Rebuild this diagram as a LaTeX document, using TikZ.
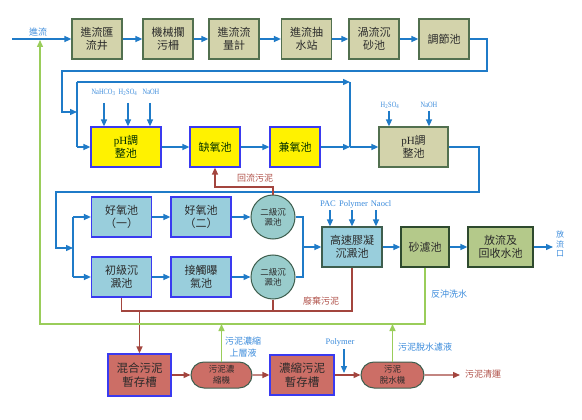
\documentclass[tikz,border=0pt]{standalone}
\usepackage{fontspec}
\setmainfont{Noto Sans CJK TC}
\newfontfamily\lat{Liberation Serif}
\newfontfamily\latn[FakeStretch=0.8]{Liberation Serif}
\usetikzlibrary{arrows.meta,shapes.misc}
\definecolor{khaki}{HTML}{D3D3AB}
\definecolor{dgreen}{HTML}{52704F}
\definecolor{bborder}{HTML}{3A3AF0}
\definecolor{lblue}{HTML}{99CEDC}
\definecolor{cfill}{HTML}{99CCCC}
\definecolor{cborder}{HTML}{3E5E4E}
\definecolor{gfill}{HTML}{B4C98A}
\definecolor{gborder}{HTML}{2E4A2E}
\definecolor{rfill}{HTML}{CC6E66}
\definecolor{blc}{HTML}{1F7BC8}
\definecolor{rlc}{HTML}{A3453E}
\definecolor{glc}{HTML}{9ACD5A}
\definecolor{blabel}{HTML}{3C8CDC}
\definecolor{rlabel}{HTML}{B05048}
\definecolor{btext}{HTML}{2A2A2A}
\tikzset{
  box/.style={draw, line width=1.2pt, inner sep=0pt, align=center, text=btext,
    font=\fontsize{11}{13}\selectfont, minimum width=50pt, minimum height=40pt},
  topb/.style={box, fill=khaki, draw=dgreen},
  ybox/.style={box, fill=yellow, draw=bborder, text=black!70!green!60!black},
  bbox/.style={box, fill=lblue, draw=bborder, minimum width=60pt},
  hbox/.style={box, fill=lblue, draw=cborder, minimum width=60pt},
  gbox/.style={box, fill=gfill, draw=gborder},
  rbox/.style={box, fill=rfill, draw=bborder, font=\fontsize{11.5}{14}\selectfont},
  circ/.style={circle, draw=cborder, fill=cfill, line width=1pt, minimum size=44pt,
    inner sep=0pt, align=center, text=btext, font=\fontsize{8.5}{10}\selectfont},
  stad/.style={rounded rectangle, draw=cborder, fill=rfill, line width=1pt,
    minimum width=61pt, minimum height=26pt, inner sep=0pt, align=center, text=btext,
    font=\fontsize{8.5}{11}\selectfont},
  arr/.style={-{Triangle[length=7pt,width=6pt]}},
  bline/.style={draw=blc, line width=1.4pt},
  rline/.style={draw=rlc, line width=1.4pt},
  gline/.style={draw=glc, line width=1.4pt},
  bll/.style={text=blabel, inner sep=0pt, font=\fontsize{9}{10}\selectfont, align=center},
  rll/.style={text=rlabel, inner sep=0pt, font=\fontsize{9}{10}\selectfont, align=center},
  chem/.style={text=blabel, inner sep=0pt, font=\latn\fontsize{8}{9}\selectfont},
  chemw/.style={text=blabel, inner sep=0pt, font=\lat\fontsize{8.5}{9}\selectfont},
}
\begin{document}
\begin{tikzpicture}[x=1pt,y=-1pt]
\useasboundingbox[fill=white] (0,0) rectangle (582,420);

% ---- top row
\node[topb] (t1) at (97,39) {進流匯\\流井};
\node[topb] (t2) at (168,39) {機械攔\\污柵};
\node[topb] (t3) at (234,39) {進流流\\量計};
\node[topb] (t4) at (306.5,39) {進流抽\\水站};
\node[topb] (t5) at (374,39) {渦流沉\\砂池};
\node[topb] (t6) at (444,39) {調節池};

% ---- second row
\node[ybox, minimum width=70pt] (p1) at (126,147) {{\lat pH}調\\整池};
\node[ybox] (a1) at (215,147) {缺氧池};
\node[ybox] (a2) at (295,147) {兼氧池};
\node[topb, minimum width=69pt] (p2) at (413.5,147) {{\lat pH}調\\整池};

% ---- third/fourth rows
\node[bbox] (o1) at (121.5,217) {好氧池\\（一）};
\node[bbox] (o2) at (201,217) {好氧池\\（二）};
\node[circ] (c1) at (273,217) {二級沉\\澱池};
\node[bbox] (i1) at (121.5,277) {初級沉\\澱池};
\node[bbox] (i2) at (201,277) {接觸曝\\氣池};
\node[circ] (c2) at (273,277) {二級沉\\澱池};
\node[hbox] (hs) at (352,247) {高速膠凝\\沉澱池};
\node[gbox, minimum width=48pt] (sf) at (425,247) {砂濾池};
\node[gbox, minimum width=65pt] (fr) at (500.5,247) {放流及\\回收水池};

% ---- sludge row
\node[rbox, minimum width=63pt, minimum height=42pt] (m1) at (139.5,375) {混合污泥\\暫存槽};
\node[stad] (s1) at (221.5,375) {污泥濃\\縮機};
\node[rbox, minimum width=64pt, minimum height=40pt] (m2) at (302,375) {濃縮污泥\\暫存槽};
\node[stad, minimum width=63pt] (s2) at (392.5,375) {污泥\\脫水機};

% ---- inflow
\coordinate (inflow) at (12,39);
\draw[bline,arr] (inflow) -- (t1.west);
\node[bll] (lin) at (38,32) {進流};
\draw[bline,arr] (t1) -- (t2);
\draw[bline,arr] (t2) -- (t3);
\draw[bline,arr] (t3) -- (t4);
\draw[bline,arr] (t4) -- (t5);
\draw[bline,arr] (t5) -- (t6);

% ---- loop to row 2
\coordinate (k1) at (487,71);
\coordinate (k2) at (62,112);
\coordinate (k3) at (77,112);
\draw[bline,arr] (t6.east) -| (k1) -| (k2) -- (k3);
\coordinate (v1) at (77,82);
\coordinate (v2) at (77,147);
\coordinate (b1) at (350,82);
\coordinate (b2) at (350,147);
\draw[bline] (v1) -- (v2);
\draw[bline,arr] (v2) -- (p1.west);
\draw[bline,arr] (v1) -- (b1);
\draw[bline] (b1) -- (b2);
\draw[bline,arr] (p1) -- (a1);
\draw[bline,arr] (a1) -- (a2);
\draw[bline,arr] (a2) -- (b2);
\draw[bline,arr] (b2) -- (p2);

% ---- chemicals row 2
\node[chem] (n1) at (103.5,92) {NaHCO\textsubscript{3}};
\node[chem] (n2) at (128,92) {H\textsubscript{2}SO\textsubscript{4}};
\node[chem] (n3) at (151,92) {NaOH};
\coordinate (n1a) at (104,103);
\coordinate (n2a) at (128,103);
\coordinate (n3a) at (150,103);
\draw[bline,arr] (n1a) -- (n1a |- p1.north);
\draw[bline,arr] (n2a) -- (n2a |- p1.north);
\draw[bline,arr] (n3a) -- (n3a |- p1.north);
\node[chem] (n4) at (390,105) {H\textsubscript{2}SO\textsubscript{4}};
\node[chem] (n5) at (429,105) {NaOH};
\coordinate (n4a) at (389,111);
\coordinate (n5a) at (429,111);
\draw[bline,arr] (n4a) -- (n4a |- p2.north);
\draw[bline,arr] (n5a) -- (n5a |- p2.north);

% ---- pH2 to rows 3/4
\coordinate (q1) at (479,192);
\coordinate (q2) at (56,248);
\coordinate (q3) at (73,248);
\draw[bline,arr] (p2.east) -| (q1) -| (q2) -- (q3);
\coordinate (u1) at (73,217);
\coordinate (u2) at (73,277);
\draw[bline] (u1) -- (u2);
\draw[bline,arr] (u1) -- (o1);
\draw[bline,arr] (u2) -- (i1);
\draw[bline,arr] (o1) -- (o2);
\draw[bline,arr] (o2) -- (c1);
\draw[bline,arr] (i1) -- (i2);
\draw[bline,arr] (i2) -- (c2);
\coordinate (w1) at (303,217);
\coordinate (w2) at (303,277);
\coordinate (w3) at (303,247);
\draw[bline] (c1.east) -- (w1) -- (w2) -- (c2.east);
\draw[bline,arr] (w3) -- (hs);
\draw[bline,arr] (hs) -- (sf);
\draw[bline,arr] (sf) -- (fr);
\coordinate (outl) at (553,247);
\draw[bline,arr] (fr) -- (outl);
\node[bll, font=\fontsize{8}{9.5}\selectfont] (lout) at (560,244) {放\\流\\口};

% ---- chemicals coag
\node[chemw] (n6) at (328,204) {PAC};
\node[chemw] (n7) at (353.5,204) {Polymer};
\node[chemw] (n8) at (381,204) {Naocl};
\coordinate (n6a) at (330,210);
\coordinate (n7a) at (352,210);
\coordinate (n8a) at (376,210);
\draw[bline,arr] (n6a) -- (n6a |- hs.north);
\draw[bline,arr] (n7a) -- (n7a |- hs.north);
\draw[bline,arr] (n8a) -- (n8a |- hs.north);

% ---- return sludge
\coordinate (rr1) at (273,187);
\coordinate (rr2) at (215,187);
\draw[rline,arr] (c1.north) -- (rr1) -- (rr2) -- (a1.south);
\node[rll] (lrr) at (255,178) {回流污泥};

% ---- waste sludge
\coordinate (wz1) at (122,311);
\coordinate (wz4) at (139.5,311);
\draw[rline] (i1.south) -- (i1.south |- wz1) -| (hs.south);
\draw[rline] (c2.south) -- (c2.south |- wz1);
\draw[rline,arr] (wz4) -- (m1.north);
\node[rll] (lwz) at (321,301) {廢棄污泥};

% ---- green return lines
\coordinate (g2) at (40,324);
\coordinate (g3) at (40,40);
\draw[gline,arr] (sf.south) -- (sf.south |- g2) -- (g2) -- (g3);
\node[bll] (lbw) at (449,294) {反沖洗水};
\draw[gline,arr] (s1.north) -- (s1.north |- g2);
\draw[gline,arr] (s2.north) -- (s2.north |- g2);
\node[bll, font=\fontsize{9}{11.5}\selectfont] (lsup) at (243,347) {污泥濃縮\\上層液};
\node[bll] (lfil) at (425,347) {污泥脫水濾液};

% ---- sludge chain
\draw[rline,arr] (m1) -- (s1);
\draw[rline,arr] (s1) -- (m2);
\draw[rline,arr] (m2) -- (s2);
\coordinate (sout) at (460,375);
\draw[rline,arr] (s2) -- (sout);
\node[rll] (lsout) at (483,374) {污泥清運};
\node[chemw] (n9) at (340,342) {Polymer};
\coordinate (pa) at (344,349);
\coordinate (pb) at (344,373);
\draw[bline,arr] (pa) -- (pb);
\end{tikzpicture}
\end{document}
